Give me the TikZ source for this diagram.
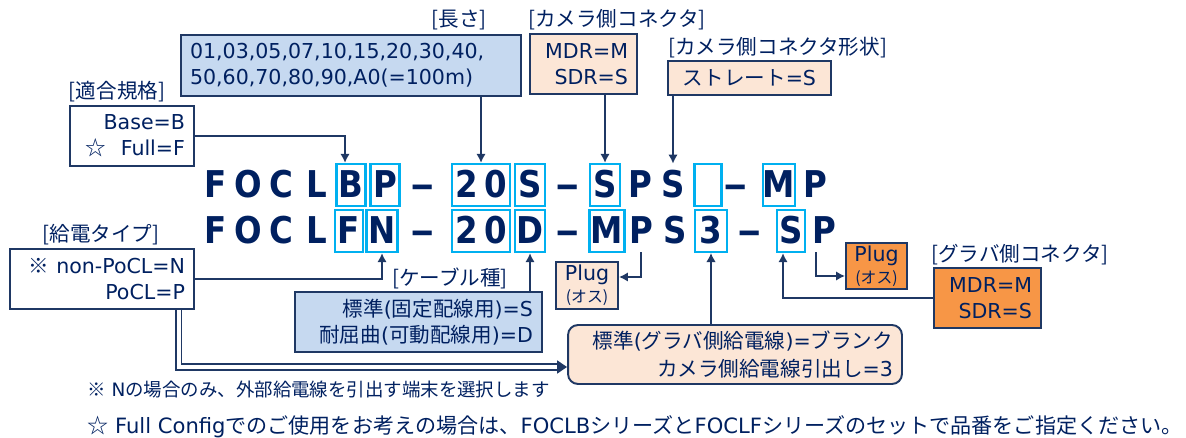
\documentclass[tikz,border=0pt]{standalone}
\usepackage{fontspec}
\setmainfont{DejaVu Sans}
\newfontfamily\jp{Noto Sans CJK JP}
\newfontfamily\pnfont{DejaVu Sans}[FakeStretch=0.88]
\usetikzlibrary{positioning,arrows.meta}
\definecolor{navy}{RGB}{0,32,96}
\definecolor{frame}{RGB}{31,56,100}
\definecolor{hlcyan}{RGB}{0,176,240}
\definecolor{paleblue}{RGB}{198,217,240}
\definecolor{peach}{RGB}{252,230,214}
\definecolor{grabor}{RGB}{247,150,70}

\begin{document}
\begin{tikzpicture}[x=0.02cm,y=-0.02cm]
\tikzstyle{pn}=[font=\fontsize{21}{25}\selectfont\pnfont\bfseries, text=navy, anchor=base, inner xsep=0pt, inner ysep=0.06cm, text height=0.62cm, text depth=0.1cm]
\tikzstyle{hl}=[pn, draw=hlcyan, line width=1.3pt, minimum width=0.58cm]
\tikzstyle{box}=[rectangle, draw=frame, line width=1.1pt, text=navy, minimum height=1.2cm, inner xsep=0.18cm, font=\fontsize{11.7}{14.6}\selectfont]
\tikzstyle{tag}=[text=navy, inner sep=0pt, font=\fontsize{11.7}{14}\selectfont\jp]
\tikzstyle{connect}=[-{Latex[length=0.18cm,width=0.19cm]}, draw=frame, line width=1.1pt]
\useasboundingbox (0,0) rectangle (1186,438);
  % first part number
\node[pn] (r1F) at (216,198) {F};
\node[pn] (r1O) at (248,198) {O};
\node[pn] (r1C) at (281,198) {C};
\node[pn] (r1L) at (317,198) {L};
\node[hl] (r1B) at (351,198) {B};
\node[hl] (r1P) at (385,198) {P};
\node[pn] (r1d1) at (423,198) {\scalebox{1.5}[1]{–}};
\node[hl, minimum width=1.16cm] (r1len) at (481,198) {2\kern0.13cm 0};
\node[hl, minimum width=0.6cm] (r1S1) at (530,198) {S};
\node[pn] (r1d2) at (568,198) {\scalebox{1.5}[1]{–}};
\node[hl, minimum width=0.6cm] (r1S2) at (605,198) {S};
\node[pn] (r1P2) at (640,198) {P};
\node[pn] (r1S3) at (673,198) {S};
\node[hl, minimum width=0.54cm] (r1gap) at (708,198) {};
\node[pn] (r1d3) at (736,198) {\scalebox{1.5}[1]{–}};
\node[hl, minimum width=0.64cm] (r1M) at (779,198) {M};
\node[pn] (r1P3) at (815,198) {P};
  % second part number
\node[pn] (r2F) at (216,244) {F};
\node[pn] (r2O) at (248,244) {O};
\node[pn] (r2C) at (281,244) {C};
\node[pn] (r2L) at (317,244) {L};
\node[hl, minimum width=0.56cm] (r2F2) at (349,244) {F};
\node[hl, minimum width=0.62cm] (r2N) at (382,244) {N};
\node[pn] (r2d1) at (423,244) {\scalebox{1.5}[1]{–}};
\node[hl, minimum width=1.16cm] (r2len) at (481,244) {2\kern0.13cm 0};
\node[hl, minimum width=0.6cm] (r2D) at (530,244) {D};
\node[pn] (r2d2) at (568,244) {\scalebox{1.5}[1]{–}};
\node[hl, minimum width=0.7cm] (r2M) at (607,244) {M};
\node[pn] (r2P1) at (641,244) {P};
\node[pn] (r2S1) at (675,244) {S};
\node[hl, minimum width=0.64cm] (r2three) at (711,244) {3};
\node[pn] (r2d3) at (750,244) {\scalebox{1.5}[1]{–}};
\node[hl, minimum width=0.56cm] (r2S) at (791,244) {S};
\node[pn] (r2P2) at (824,244) {P};
  % option boxes
\node[box, text width=2.12cm, align=right] (std) at (132,136) {Base=B\\{\jp ☆}\hspace{0.3cm}Full=F};
\node[tag] (lblStd) at (117,92) {[適合規格]};
\node[box, fill=paleblue, text width=6.44cm, align=left, minimum height=1.22cm] (len) at (351,65.5) {01,03,05,07,10,15,20,30,40,\\50,60,70,80,90,A0(=100m)};
\node[tag] (lblLen) at (459,20) {[長さ]};
\node[box, fill=peach, text width=1.78cm, align=right] (cam) at (583.5,64) {MDR=M\\SDR=S};
\node[tag, anchor=west] (lblCam) at (528,20) {[カメラ側コネクタ]};
\node[box, fill=peach, minimum width=3.26cm, minimum height=0.68cm] (shape) at (749.5,78) {{\jp ストレート}=S};
\node[tag, anchor=west] (lblShape) at (668,48) {[カメラ側コネクタ形状]};
\node[box, text width=3.32cm, align=right] (pwr) at (102,279) {{\jp ※} non-PoCL=N\\PoCL=P};
\node[tag] (lblPwr) at (101,235) {[給電タイプ]};
\node[box, fill=paleblue, text width=4.58cm, align=right] (cable) at (418.5,322) {{\jp 標準}({\jp 固定配線用})=S\\{\jp 耐屈曲}({\jp 可動配線用})=D};
\node[tag] (lblCable) at (450,278) {[ケーブル種]};
\node[box, fill=peach, minimum width=1.24cm, minimum height=0.94cm, inner sep=0pt, align=center, font=\fontsize{11.7}{12.5}\selectfont] (plug1) at (587,285.5) {Plug\\{\jp\fontsize{9}{10}\selectfont (オス)}};
\node[box, fill=peach, rounded corners=0.2cm, text width=6.32cm, align=right, minimum height=1.18cm] (blank) at (735,354.5) {{\jp 標準}({\jp グラバ側給電線})={\jp ブランク}\\[1pt]{\jp カメラ側給電線引出し}=3};
\node[box, fill=grabor, minimum width=1.22cm, minimum height=0.92cm, inner sep=0pt, align=center, font=\fontsize{11.7}{12.5}\selectfont] (plug2) at (876.5,266) {Plug\\{\jp\fontsize{9}{10}\selectfont (オス)}};
\node[box, fill=grabor, text width=1.78cm, align=right] (grab) at (987.5,298) {MDR=M\\SDR=S};
\node[tag, anchor=west] (lblGrab) at (931,255) {[グラバ側コネクタ]};
  % notes
\node[tag, anchor=west, font=\fontsize{10.5}{12}\selectfont] (note1) at (87,390) {{\jp ※} N{\jp の場合のみ、外部給電線を引出す端末を選択します}};
\node[tag, anchor=west, font=\fontsize{12}{14}\selectfont] (note2) at (87,427) {{\jp ☆} Full Config{\jp でのご使用をお考えの場合は、}FOCLB{\jp シリーズと}FOCLF{\jp シリーズのセットで品番をご指定ください。}};
  % connectors
\draw[connect] (std.east) -| ([xshift=-0.12cm]r1B.north);
\path (len.south -| r1len.north) edge [connect] (r1len.north)
      (cam.south -| r1S2.north) edge [connect] (r1S2.north)
      (shape.south -| r1S3.north) edge [connect] (r1S3.north)
      (cable.north -| r2D.south) edge [connect] (r2D.south);
\draw[connect] (pwr.east) -| (r2N.south);
\draw[connect] (r2P1.south) |- ([yshift=0.17cm]plug1.east);
\draw[connect] ([xshift=-0.16cm]r2P2.south) |- ([yshift=-0.2cm]plug2.west);
\draw[connect] (grab.west) -| ([xshift=-0.16cm]r2S.south);
\draw[connect, line width=0.6pt] (blank.north -| r2three.south) -- (r2three.south);
\draw[frame, line width=1pt, double=white, double distance=2pt, -{Triangle[length=0.2cm,width=0.26cm]}] ([xshift=-0.32cm]pwr.south east) |- ([yshift=-0.25cm]blank.west);
\end{tikzpicture}
\end{document}
